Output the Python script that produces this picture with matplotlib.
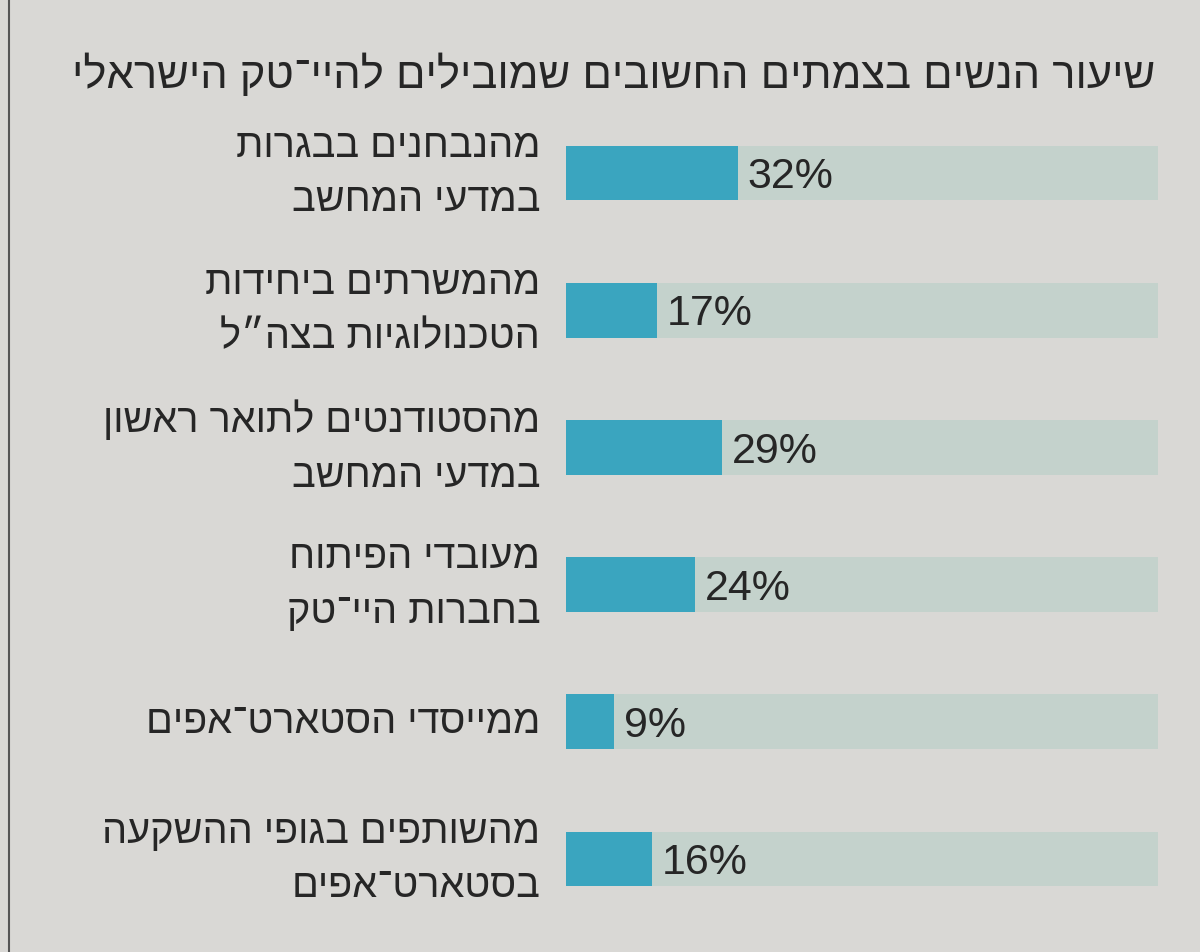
import matplotlib.pyplot as plt

plt.rcParams['font.family'] = ['Liberation Sans', 'DejaVu Sans']

title = "שיעור הנשים בצמתים החשובים שמובילים להיי־טק הישראלי"
labels = [
    "מהנבחנים בבגרות\nבמדעי המחשב",
    "מהמשרתים ביחידות\nהטכנולוגיות בצה״ל",
    "מהסטודנטים לתואר ראשון\nבמדעי המחשב",
    "מעובדי הפיתוח\nבחברות היי־טק",
    "ממייסדי הסטארט־אפים",
    "מהשותפים בגופי ההשקעה\nבסטארט־אפים",
]
values = [32, 17, 29, 24, 9, 16]

BG_MAX = 110
page = '#d9d8d5'
blue = '#3aa5bf'
track = '#c4d2cc'
ink = '#262626'


def rtl(s):
    # matplotlib has no bidi support, flip each line by hand
    return "\n".join(line[::-1] for line in s.split("\n"))


fig = plt.figure(figsize=(12, 9.52), dpi=100, facecolor=page)
ax = fig.add_axes([566 / 1200, 1 - 927.6 / 952, 592 / 1200, 823.2 / 952])
ax.set_facecolor(page)

ypos = list(range(len(values)))
ax.barh(ypos, [BG_MAX] * len(values), height=0.4, color=track)
ax.barh(ypos, values, height=0.4, color=blue)

for y, v, lab in zip(ypos, values, labels):
    ax.text(v + 1.8, y + 0.03, f"{v}%", va='center', ha='left',
            fontsize=31, color=ink)
    ax.text(-4.8, y, rtl(lab), va='center', ha='right', fontsize=28.5,
            color=ink, linespacing=1.55)

ax.set_xlim(0, BG_MAX)
ax.set_ylim(len(values) - 0.5, -0.5)
ax.axis('off')

fig.text(1155 / 1200, 1 - 75 / 952, rtl(title), ha='right', va='center',
         fontsize=31.3, color=ink)

# thin rule on the left edge of the page
fig.add_artist(plt.Line2D([9 / 1200, 9 / 1200], [0, 1], color='#555555',
                          lw=1.5, transform=fig.transFigure))

plt.savefig("out.png", dpi=100, facecolor=page)
